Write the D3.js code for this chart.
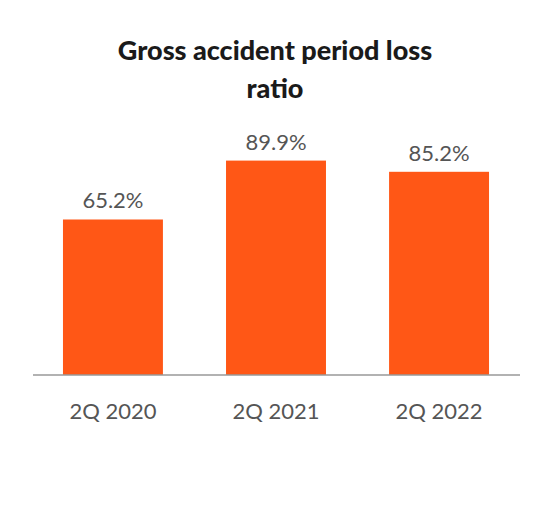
<!DOCTYPE html>
<html><head><meta charset="utf-8">
<script src="https://cdn.jsdelivr.net/npm/d3@7/dist/d3.min.js"></script>
<style>body{margin:0;background:#fff}</style></head>
<body><svg id="c" width="550" height="510"></svg>
<script>
const categories = ["2Q 2020", "2Q 2021", "2Q 2022"];
const values = [65.2, 89.9, 85.2];
const labels = ["65.2%", "89.9%", "85.2%"];
const titleLines = ["Gross accident period loss", "ratio"];

const svg = d3.select("#c");
const font = "Lato, 'Open Sans', sans-serif";
const x = d3.scaleBand().domain(categories).range([31.5, 520.5]).paddingInner(0.387).paddingOuter(0.193);
const y = d3.scaleLinear().domain([0, 100]).range([375, 136.5]);

svg.selectAll("text.t").data(titleLines).join("text")
  .attr("x", 275).attr("y", (d, i) => 60 + i * 38).attr("text-anchor", "middle")
  .attr("font-family", font).attr("font-weight", "900").attr("font-size", 27).attr("fill", "#1a1a1a").text(d => d);

svg.selectAll("rect").data(values).join("rect")
  .attr("x", (d, i) => x(categories[i])).attr("width", x.bandwidth())
  .attr("y", d => y(d)).attr("height", d => y(0) - y(d)).attr("fill", "#FF5716");

svg.selectAll("text.v").data(values).join("text")
  .attr("x", (d, i) => x(categories[i]) + x.bandwidth() / 2).attr("y", d => y(d) - 11)
  .attr("text-anchor", "middle").attr("font-family", font).attr("font-size", 22).attr("fill", "#555")
  .text((d, i) => labels[i]);

const ax = svg.append("g").attr("transform", "translate(0,375)")
  .call(d3.axisBottom(x).tickSize(0).tickPadding(28));
ax.select(".domain").attr("stroke", "#999").attr("stroke-width", 1.5).attr("d", "M33,0H520");
ax.selectAll("text").attr("font-family", font).attr("font-size", 22).attr("fill", "#555");
</script></body></html>
